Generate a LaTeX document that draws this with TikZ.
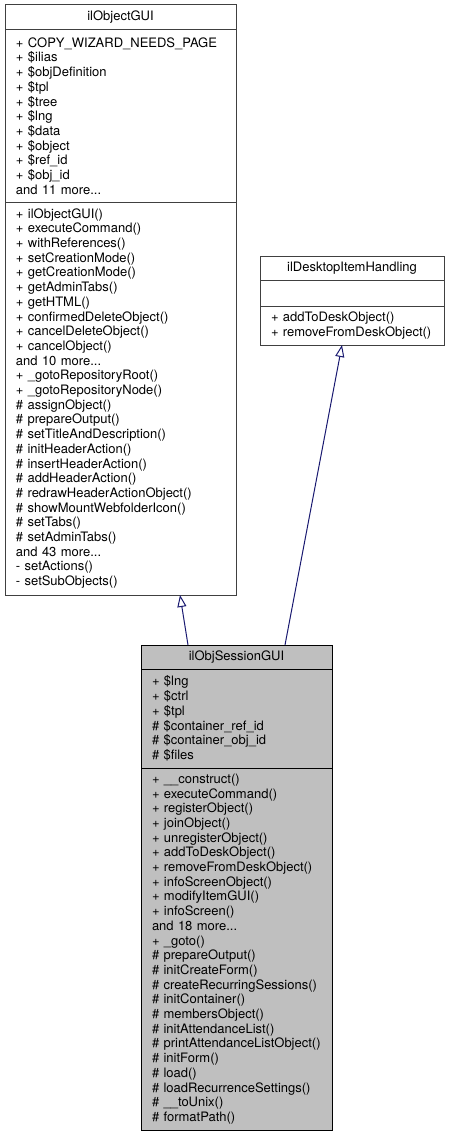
\documentclass[tikz,border=0pt]{standalone}
\usepackage{fontspec}
\setmainfont{TeX Gyre Heros}
\usepackage{tikz}
\usetikzlibrary{calc, positioning, arrows.meta}
\usepackage{xcolor}

\definecolor{edgeblue}{HTML}{191970}
\definecolor{currentgray}{HTML}{BFBFBF}

\begin{document}
\begin{tikzpicture}[x=1pt, y=-1pt]
        % Styles
        \tikzset{
          classpart/.style={
            draw=black!75,
            line width=1pt,
            outer sep=0pt,
            inner xsep=11pt, inner ysep=0pt,
            text width=#1,
            align=left,
            font=\fontsize{13}{14.7}\selectfont
          },
          classtitle/.style={
            classpart=#1,
            align=center,
            minimum height=24pt
          },
          current/.style={
            draw=black,
            fill=currentgray
          },
          inherit/.style={
            draw=edgeblue,
            line width=1pt,
            -{Triangle[open, length=12pt, width=9pt]}
          }
        }

        \useasboundingbox (0,0) rectangle (450,1137);

        % base class ilObjectGUI
        \node[classtitle=209pt, anchor=north, minimum height=25pt] (objTitle) at (120.5,5) {ilObjectGUI};
        \node[classpart=209pt, below=0pt of objTitle, minimum height=172pt] (objAttrs) {%
          + COPY\_WIZARD\_NEEDS\_PAGE\\
          + \$ilias\\
          + \$objDefinition\\
          + \$tpl\\
          + \$tree\\
          + \$lng\\
          + \$data\\
          + \$object\\
          + \$ref\_id\\
          + \$obj\_id\\
          and 11 more...};
        \node[classpart=209pt, below=0pt of objAttrs, minimum height=393pt] (objMethods) {%
          + ilObjectGUI()\\
          + executeCommand()\\
          + withReferences()\\
          + setCreationMode()\\
          + getCreationMode()\\
          + getAdminTabs()\\
          + getHTML()\\
          + confirmedDeleteObject()\\
          + cancelDeleteObject()\\
          + cancelObject()\\
          and 10 more...\\
          + \_gotoRepositoryRoot()\\
          + \_gotoRepositoryNode()\\
          \# assignObject()\\
          \# prepareOutput()\\
          \# setTitleAndDescription()\\
          \# initHeaderAction()\\
          \# insertHeaderAction()\\
          \# addHeaderAction()\\
          \# redrawHeaderActionObject()\\
          \# showMountWebfolderIcon()\\
          \# setTabs()\\
          \# setAdminTabs()\\
          and 43 more...\\
          - setActions()\\
          - setSubObjects()};

        % interface ilDesktopItemHandling
        \node[classtitle=162pt, anchor=north] (deskTitle) at (352,256) {ilDesktopItemHandling};
        \node[classpart=162pt, below=0pt of deskTitle, minimum height=26pt] (deskAttrs) {};
        \node[classpart=162pt, below=0pt of deskAttrs, minimum height=39pt] (deskMethods) {%
          + addToDeskObject()\\
          + removeFromDeskObject()};

        % derived class ilObjSessionGUI
        \node[classtitle=169pt, current, anchor=north] (sessTitle) at (236.5,645) {ilObjSessionGUI};
        \node[classpart=169pt, current, below=0pt of sessTitle, minimum height=99pt] (sessAttrs) {%
          + \$lng\\
          + \$ctrl\\
          + \$tpl\\
          \# \$container\_ref\_id\\
          \# \$container\_obj\_id\\
          \# \$files};
        \node[classpart=169pt, current, below=0pt of sessAttrs, minimum height=362pt] (sessMethods) {%
          + \_\_construct()\\
          + executeCommand()\\
          + registerObject()\\
          + joinObject()\\
          + unregisterObject()\\
          + addToDeskObject()\\
          + removeFromDeskObject()\\
          + infoScreenObject()\\
          + modifyItemGUI()\\
          + infoScreen()\\
          and 18 more...\\
          + \_goto()\\
          \# prepareOutput()\\
          \# initCreateForm()\\
          \# createRecurringSessions()\\
          \# initContainer()\\
          \# membersObject()\\
          \# initAttendanceList()\\
          \# printAttendanceListObject()\\
          \# initForm()\\
          \# load()\\
          \# loadRecurrenceSettings()\\
          \# \_\_toUnix()\\
          \# formatPath()};

        % inheritance arrows
        \draw[inherit]
          ($(sessTitle.north)+(-48.5,0)$) --
          ($(objMethods.south)+(59.5,0)$);
        \draw[inherit]
          ($(sessTitle.north)+(48.5,0)$) --
          ($(deskMethods.south)+(-10,0)$);
    \end{tikzpicture}
\end{document}
